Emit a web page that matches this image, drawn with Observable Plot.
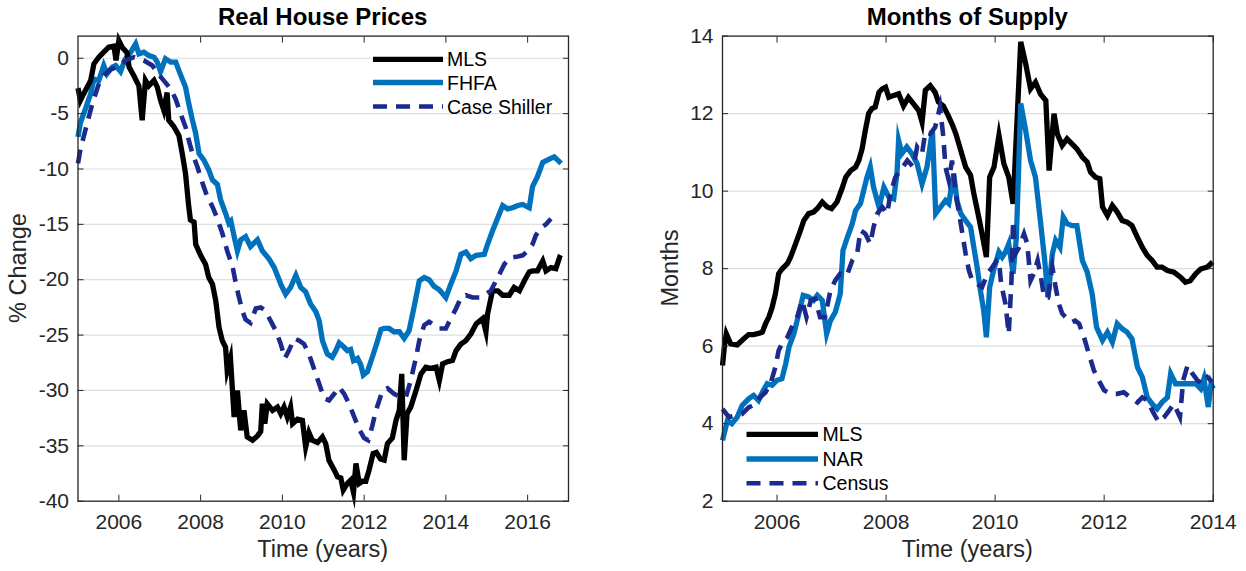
<!DOCTYPE html>
<html>
<head>
<meta charset="utf-8">
<script src="https://cdn.jsdelivr.net/npm/d3@7"></script>
<script src="https://cdn.jsdelivr.net/npm/@observablehq/plot@0.6"></script>
<style>
  html, body { margin: 0; padding: 0; background: #fff; }
  #wrap { position: relative; width: 1246px; height: 571px; overflow: hidden; font-family: "Liberation Sans", Arial, sans-serif; }
  #wrap > svg, #wrap > figure { position: absolute; top: 0; margin: 0; }
  #overlay { position: absolute; left: 0; top: 0; pointer-events: none; }
</style>
</head>
<body>
<div id="wrap"></div>
<script>
// ---------------- Left panel: Real House Prices (% change) ----------------
const priceMlsYear = [2005.00,2005.06,2005.14,2005.31,2005.39,2005.51,2005.63,2005.75,2005.88,2005.93,2006.00,2006.08,2006.20,2006.25,2006.37,2006.49,2006.57,2006.65,2006.73,2006.86,2006.94,2007.02,2007.10,2007.18,2007.22,2007.35,2007.47,2007.55,2007.63,2007.71,2007.75,2007.84,2007.88,2008.00,2008.12,2008.20,2008.29,2008.37,2008.45,2008.53,2008.61,2008.65,2008.73,2008.82,2008.90,2008.98,2009.06,2009.14,2009.27,2009.39,2009.47,2009.51,2009.57,2009.63,2009.76,2009.88,2009.96,2010.04,2010.12,2010.20,2010.25,2010.37,2010.49,2010.57,2010.65,2010.73,2010.86,2010.98,2011.06,2011.14,2011.27,2011.35,2011.43,2011.49,2011.59,2011.67,2011.74,2011.80,2011.88,2011.96,2012.04,2012.12,2012.22,2012.30,2012.40,2012.49,2012.57,2012.69,2012.78,2012.86,2012.92,2012.98,2013.05,2013.14,2013.27,2013.39,2013.51,2013.63,2013.76,2013.84,2013.92,2014.04,2014.16,2014.25,2014.37,2014.49,2014.61,2014.74,2014.90,2014.98,2015.02,2015.14,2015.27,2015.39,2015.55,2015.67,2015.80,2015.92,2016.04,2016.12,2016.24,2016.37,2016.45,2016.57,2016.69,2016.78,2016.83];
const priceMlsValue = [-2.7,-3.8,-3.2,-2.0,-0.5,0.1,0.55,1.0,1.1,-0.2,1.6,1.0,0.5,-0.8,-1.6,-2.5,-5.6,-2.0,-2.5,-2.0,-2.6,-3.8,-4.7,-3.1,-5.6,-6.2,-7.0,-8.6,-10.4,-13.4,-14.6,-14.8,-16.8,-17.8,-18.6,-19.8,-20.4,-21.9,-24.3,-25.5,-26.1,-28.2,-27.1,-32.4,-30.0,-33.6,-31.8,-34.2,-34.5,-34.1,-33.7,-31.2,-33.0,-31.2,-31.8,-31.5,-32.1,-31.5,-32.4,-31.5,-33.0,-32.6,-32.7,-35.1,-33.8,-34.5,-34.7,-34.2,-34.8,-36.3,-37.2,-37.8,-37.9,-39.0,-38.4,-38.1,-39.2,-36.6,-38.4,-38.2,-38.2,-37.2,-35.7,-35.6,-36.2,-36.3,-34.8,-34.3,-32.7,-31.8,-28.5,-36.3,-32.1,-31.5,-30.0,-28.5,-27.9,-28.0,-27.9,-29.1,-27.6,-27.4,-27.3,-26.4,-25.8,-25.5,-24.9,-24.0,-23.5,-24.7,-23.1,-21.0,-21.0,-21.4,-21.4,-20.7,-21.0,-20.1,-19.3,-19.2,-19.2,-18.3,-19.2,-18.9,-19.0,-18.0,-18.1];

const priceFhfaYear = [2005.00,2005.06,2005.18,2005.31,2005.39,2005.51,2005.63,2005.71,2005.84,2005.92,2006.04,2006.16,2006.29,2006.41,2006.49,2006.61,2006.73,2006.86,2006.94,2007.02,2007.14,2007.27,2007.39,2007.51,2007.63,2007.71,2007.80,2007.88,2007.96,2008.08,2008.20,2008.29,2008.41,2008.49,2008.61,2008.69,2008.74,2008.82,2008.90,2008.98,2009.10,2009.22,2009.39,2009.51,2009.67,2009.80,2009.92,2009.96,2010.08,2010.20,2010.33,2010.45,2010.57,2010.69,2010.82,2010.90,2010.98,2011.10,2011.22,2011.31,2011.39,2011.51,2011.59,2011.67,2011.74,2011.84,2011.92,2011.98,2012.08,2012.20,2012.33,2012.41,2012.49,2012.61,2012.73,2012.86,2012.98,2013.10,2013.22,2013.35,2013.47,2013.59,2013.71,2013.84,2014.00,2014.12,2014.25,2014.37,2014.49,2014.61,2014.74,2014.94,2015.02,2015.14,2015.27,2015.39,2015.51,2015.63,2015.76,2015.88,2016.04,2016.12,2016.24,2016.37,2016.53,2016.65,2016.82];
const priceFhfaValue = [-7.1,-5.8,-4.6,-3.2,-1.9,-2.0,-0.66,-1.4,-0.8,-0.66,-1.2,-0.05,0.55,1.3,0.4,0.55,0.25,0.1,-0.35,-1.2,-0.05,-0.35,-0.35,-1.5,-2.6,-4.1,-5.6,-6.8,-8.6,-9.2,-10.1,-11.0,-11.4,-12.8,-14.0,-14.9,-14.7,-16.1,-17.4,-16.4,-16.1,-17.0,-16.4,-17.4,-18.1,-18.9,-20.0,-20.4,-21.3,-20.7,-19.6,-20.7,-21.1,-22.2,-22.9,-23.7,-25.5,-26.7,-27.0,-26.4,-25.7,-26.1,-26.4,-26.3,-27.3,-27.1,-27.7,-28.6,-28.3,-27.0,-25.5,-24.5,-24.4,-24.4,-24.7,-24.7,-25.3,-24.6,-22.5,-20.1,-19.8,-20.0,-20.6,-20.9,-21.6,-20.4,-19.2,-17.7,-17.5,-18.1,-17.8,-17.7,-16.8,-15.6,-14.4,-13.3,-13.6,-13.5,-13.3,-13.2,-13.5,-11.6,-10.7,-9.4,-9.1,-8.9,-9.5];

const priceCsYear = [2005.00,2005.06,2005.18,2005.35,2005.51,2005.67,2005.80,2005.96,2006.16,2006.37,2006.61,2006.82,2006.98,2007.14,2007.27,2007.39,2007.51,2007.63,2007.71,2007.80,2007.92,2008.04,2008.16,2008.29,2008.41,2008.53,2008.65,2008.78,2008.86,2008.92,2009.02,2009.10,2009.22,2009.35,2009.47,2009.59,2009.71,2009.84,2009.96,2010.06,2010.16,2010.29,2010.41,2010.53,2010.65,2010.78,2010.90,2011.02,2011.14,2011.27,2011.39,2011.51,2011.63,2011.76,2011.88,2012.00,2012.10,2012.20,2012.29,2012.37,2012.45,2012.57,2012.73,2012.90,2013.02,2013.14,2013.27,2013.35,2013.47,2013.59,2013.71,2013.84,2014.00,2014.12,2014.25,2014.37,2014.49,2014.65,2014.82,2014.98,2015.10,2015.31,2015.43,2015.59,2015.76,2015.88,2016.00,2016.12,2016.20,2016.33,2016.45,2016.57];
const priceCsValue = [-9.5,-8.2,-6.5,-4.1,-2.3,-1.4,-1.0,-0.8,-0.2,0.1,-0.2,-0.66,-1.5,-2.2,-2.8,-3.7,-5.0,-6.2,-7.4,-8.6,-9.8,-11.2,-12.5,-13.4,-14.5,-15.8,-17.4,-18.8,-20.3,-21.3,-22.8,-23.6,-23.9,-22.6,-22.5,-22.8,-23.7,-24.6,-25.8,-27.1,-26.4,-25.3,-25.5,-25.8,-26.7,-28.1,-29.4,-30.7,-30.9,-30.3,-29.7,-30.3,-31.2,-32.4,-33.5,-34.3,-34.5,-33.2,-31.8,-30.9,-30.0,-29.8,-30.3,-30.6,-30.6,-29.1,-27.0,-25.5,-24.1,-23.8,-24.1,-24.4,-24.4,-23.5,-22.6,-21.6,-21.4,-21.6,-21.6,-21.3,-21.0,-19.5,-18.6,-18.0,-17.9,-17.8,-17.4,-16.8,-16.0,-15.3,-15.0,-14.5];

const priceXTicks = [2006, 2008, 2010, 2012, 2014, 2016];
const priceYTicks = [-40, -35, -30, -25, -20, -15, -10, -5, 0];
const priceSeriesNames = ["MLS", "FHFA", "Case Shiller"];

// ---------------- Right panel: Months of Supply ----------------
const supplyMlsYear = [2005.00,2005.04,2005.07,2005.15,2005.27,2005.39,2005.48,2005.57,2005.66,2005.73,2005.79,2005.85,2005.91,2005.97,2006.03,2006.09,2006.19,2006.25,2006.34,2006.43,2006.49,2006.58,2006.67,2006.74,2006.83,2006.92,2007.00,2007.10,2007.20,2007.26,2007.35,2007.44,2007.50,2007.56,2007.62,2007.68,2007.74,2007.80,2007.87,2007.93,2007.99,2008.05,2008.14,2008.23,2008.32,2008.41,2008.50,2008.60,2008.66,2008.72,2008.81,2008.90,2008.96,2009.05,2009.14,2009.22,2009.28,2009.37,2009.46,2009.55,2009.61,2009.70,2009.76,2009.84,2009.90,2009.98,2010.07,2010.16,2010.25,2010.33,2010.47,2010.56,2010.65,2010.74,2010.83,2010.93,2010.99,2011.08,2011.14,2011.23,2011.32,2011.41,2011.50,2011.60,2011.69,2011.75,2011.84,2011.92,2011.97,2012.06,2012.15,2012.24,2012.33,2012.42,2012.51,2012.61,2012.70,2012.79,2012.88,2012.97,2013.06,2013.16,2013.28,2013.40,2013.49,2013.58,2013.68,2013.77,2013.89,2013.99];
const supplyMlsValue = [5.5,6.06,6.32,6.06,6.03,6.19,6.3,6.3,6.33,6.36,6.58,6.75,7.0,7.35,7.87,7.99,8.13,8.3,8.64,8.99,9.24,9.42,9.46,9.55,9.72,9.59,9.55,9.72,10.1,10.36,10.53,10.62,10.79,11.09,11.57,12.0,12.13,12.17,12.55,12.64,12.68,12.42,12.47,12.51,12.2,12.42,12.26,12.08,11.78,12.6,12.72,12.55,12.3,12.2,11.95,11.7,11.48,11.05,10.62,10.41,9.93,9.33,8.9,8.3,10.36,10.62,11.44,10.71,10.36,9.67,13.85,13.29,12.64,12.81,12.51,12.34,10.53,12.0,11.48,11.18,11.35,11.22,11.09,10.88,10.75,10.49,10.36,10.32,9.59,9.37,9.63,9.46,9.24,9.2,9.11,8.81,8.55,8.34,8.21,8.04,8.04,7.95,7.91,7.78,7.65,7.69,7.87,7.99,8.04,8.17];

const supplyNarYear = [2005.00,2005.09,2005.17,2005.27,2005.36,2005.48,2005.57,2005.66,2005.75,2005.82,2005.91,2006.00,2006.09,2006.16,2006.22,2006.31,2006.40,2006.48,2006.58,2006.67,2006.74,2006.83,2006.91,2006.98,2007.07,2007.16,2007.21,2007.29,2007.38,2007.44,2007.53,2007.59,2007.65,2007.71,2007.77,2007.87,2007.96,2008.05,2008.14,2008.20,2008.23,2008.29,2008.38,2008.47,2008.57,2008.66,2008.75,2008.85,2008.91,2009.00,2009.09,2009.15,2009.24,2009.30,2009.37,2009.46,2009.55,2009.61,2009.67,2009.73,2009.79,2009.84,2009.90,2009.98,2010.07,2010.13,2010.19,2010.25,2010.33,2010.39,2010.47,2010.56,2010.65,2010.74,2010.83,2010.91,2010.97,2011.05,2011.11,2011.19,2011.25,2011.32,2011.41,2011.50,2011.60,2011.69,2011.78,2011.86,2011.97,2012.06,2012.15,2012.24,2012.33,2012.42,2012.51,2012.61,2012.70,2012.79,2012.88,2012.97,2013.06,2013.16,2013.22,2013.31,2013.43,2013.55,2013.68,2013.77,2013.83,2013.91,2013.96,2014.00];
const supplyNarValue = [3.57,4.08,4.0,4.17,4.47,4.64,4.73,4.6,4.86,5.03,4.99,5.12,5.16,5.55,5.98,6.32,6.84,7.31,7.27,7.18,7.31,7.18,6.32,6.66,6.88,7.35,8.47,8.81,9.16,9.5,9.68,10.02,10.36,10.62,10.1,9.59,10.1,9.85,9.8,10.45,11.31,10.97,11.14,10.97,10.71,10.19,10.62,11.57,9.42,9.59,9.76,9.68,10.45,9.76,9.42,9.24,9.07,8.55,8.04,7.44,6.93,6.23,7.52,8.0,8.43,8.3,8.43,8.64,7.87,8.81,12.26,11.57,10.79,10.36,9.24,8.21,7.26,8.38,8.73,8.55,9.33,9.16,9.11,9.11,8.21,7.91,7.35,6.49,6.15,6.36,6.1,6.58,6.45,6.36,6.19,5.46,5.2,4.68,4.51,4.38,4.55,4.68,5.29,5.03,5.03,5.03,5.03,4.9,5.16,4.43,5.03,4.9];

const supplyCensusYear = [2005.00,2005.12,2005.24,2005.36,2005.48,2005.61,2005.69,2005.79,2005.88,2005.97,2006.03,2006.09,2006.19,2006.27,2006.37,2006.46,2006.54,2006.62,2006.70,2006.79,2006.88,2006.98,2007.07,2007.16,2007.28,2007.38,2007.47,2007.53,2007.62,2007.71,2007.77,2007.84,2007.93,2008.02,2008.08,2008.17,2008.26,2008.39,2008.50,2008.57,2008.66,2008.72,2008.81,2008.90,2008.99,2009.05,2009.09,2009.15,2009.21,2009.28,2009.34,2009.40,2009.46,2009.52,2009.58,2009.67,2009.76,2009.86,2009.95,2010.03,2010.07,2010.11,2010.19,2010.25,2010.30,2010.33,2010.37,2010.44,2010.53,2010.59,2010.65,2010.71,2010.78,2010.84,2010.90,2010.97,2011.05,2011.11,2011.17,2011.23,2011.32,2011.41,2011.47,2011.54,2011.63,2011.72,2011.81,2011.90,2012.00,2012.12,2012.24,2012.36,2012.48,2012.61,2012.70,2012.79,2012.88,2013.00,2013.10,2013.19,2013.28,2013.39,2013.45,2013.53,2013.62,2013.71,2013.80,2013.89,2013.98];
const supplyCensusValue = [4.38,4.17,4.21,4.25,4.42,4.51,4.68,4.81,5.03,5.46,5.89,6.06,6.23,6.49,6.75,7.18,6.75,7.18,7.22,6.75,6.75,7.44,7.7,7.87,7.82,8.21,8.38,8.99,8.9,8.64,9.07,9.42,9.59,9.42,9.93,10.36,10.53,10.79,10.62,11.14,10.97,11.52,11.48,11.65,12.17,11.4,10.62,10.28,10.79,9.93,9.42,8.9,8.38,7.95,7.7,7.61,7.52,7.87,8.04,8.21,8.21,7.61,7.09,6.32,7.69,9.24,8.38,8.55,8.9,8.64,7.69,7.87,8.21,7.78,7.26,7.26,8.04,7.52,7.09,6.84,6.71,6.62,6.66,6.58,6.23,5.8,5.38,5.12,4.86,4.77,4.77,4.81,4.68,4.55,4.68,4.6,4.34,4.04,4.17,4.34,4.51,4.17,5.12,5.5,5.29,5.12,5.03,5.2,5.08];

const supplyXTicks = [2006, 2008, 2010, 2012, 2014];
const supplyYTicks = [2, 4, 6, 8, 10, 12, 14];
const supplySeriesNames = ["MLS", "NAR", "Census"];

// ---------------- Styling ----------------
const FONT = '"Liberation Sans", Arial, Helvetica, sans-serif';
const INK = "#262626";
const colBlack = "#000000";
const colBlue = "#0072BD";
const colNavy = "#1b2a8c";
const solidW = 5.3;
const dashW = 4.6;
const dashPattern = "14,9";

const zip = (xs, ys) => xs.map((x, i) => ({x, y: ys[i]}));

function panel({width, marginLeft, marginRight, xDomain, yDomain, xTicks, yTicks, series}) {
  const lines = series.map(s => Plot.line(s.data, {
    x: "x", y: "y", stroke: s.color, strokeWidth: s.dashed ? dashW : solidW,
    strokeDasharray: s.dashed ? dashPattern : null,
    strokeLinejoin: "miter", strokeMiterlimit: 7, strokeLinecap: "butt"
  }));
  return Plot.plot({
    width, height: 571,
    marginLeft, marginRight, marginTop: 35.6, marginBottom: 70.3,
    x: {domain: xDomain},
    y: {domain: yDomain},
    style: {fontFamily: FONT, fontSize: "21px", color: INK, background: "transparent", overflow: "visible"},
    marks: [
      Plot.gridY(yTicks.filter(v => v > yDomain[0] && v < yDomain[1]), {stroke: "#dedede", strokeOpacity: 1, strokeWidth: 1.2}),
      ...lines,
      Plot.frame({stroke: INK, strokeWidth: 1.3}),
      Plot.axisX(xTicks, {anchor: "bottom", tickSize: 0, tickPadding: 13, tickFormat: d => String(d), label: null, fill: INK}),
      Plot.axisX(xTicks, {anchor: "bottom", tickSize: -6, tickFormat: () => "", label: null, stroke: INK}),
      Plot.axisX(xTicks, {anchor: "top", tickSize: -6, tickFormat: () => "", label: null, stroke: INK}),
      Plot.axisY(yTicks, {anchor: "left", tickSize: 0, tickPadding: 9, tickFormat: d => String(d), label: null, fill: INK}),
      Plot.axisY(yTicks, {anchor: "left", tickSize: -6, tickFormat: () => "", label: null, stroke: INK}),
      Plot.axisY(yTicks, {anchor: "right", tickSize: -6, tickFormat: () => "", label: null, stroke: INK})
    ]
  });
}

const left = panel({
  width: 600, marginLeft: 77.5, marginRight: 32,
  xDomain: [2005, 2017], yDomain: [-40, 2],
  xTicks: priceXTicks, yTicks: priceYTicks,
  series: [
    {data: zip(priceFhfaYear, priceFhfaValue), color: colBlue},
    {data: zip(priceMlsYear, priceMlsValue), color: colBlack},
    {data: zip(priceCsYear, priceCsValue), color: colNavy, dashed: true}
  ]
});
const right = panel({
  width: 646, marginLeft: 122, marginRight: 33.3,
  xDomain: [2005, 2014], yDomain: [2, 14],
  xTicks: supplyXTicks, yTicks: supplyYTicks,
  series: [
    {data: zip(supplyMlsYear, supplyMlsValue), color: colBlack},
    {data: zip(supplyNarYear, supplyNarValue), color: colBlue},
    {data: zip(supplyCensusYear, supplyCensusValue), color: colNavy, dashed: true}
  ]
});

const wrap = document.getElementById("wrap");
left.style.left = "0px";
right.style.left = "600px";
wrap.appendChild(left);
wrap.appendChild(right);

// ---------------- Titles, axis labels and legends (overlay) ----------------
const ov = d3.select(wrap).append("svg").attr("id", "overlay")
  .attr("width", 1246).attr("height", 571)
  .style("font-family", FONT);

const titles = [
  {text: "Real House Prices", x: 322.7},
  {text: "Months of Supply", x: 967.3}
];
ov.selectAll("text.title").data(titles).join("text").attr("class", "title")
  .attr("x", d => d.x).attr("y", 25).attr("text-anchor", "middle")
  .attr("font-size", 24).attr("font-weight", "bold").attr("fill", "#000")
  .text(d => d.text);

const xLabels = [{text: "Time (years)", x: 322.7}, {text: "Time (years)", x: 967.3}];
ov.selectAll("text.xlab").data(xLabels).join("text").attr("class", "xlab")
  .attr("x", d => d.x).attr("y", 556.5).attr("text-anchor", "middle")
  .attr("font-size", 23.5).attr("fill", INK).text(d => d.text);

const yLabels = [{text: "% Change", x: 26, y: 268}, {text: "Months", x: 678, y: 268}];
ov.selectAll("text.ylab").data(yLabels).join("text").attr("class", "ylab")
  .attr("transform", d => `translate(${d.x},${d.y}) rotate(-90)`)
  .attr("text-anchor", "middle").attr("font-size", 23.5).attr("fill", INK)
  .text(d => d.text);

function legend(names, colors, dashed, x0, x1, tx, ys) {
  const g = ov.append("g");
  names.forEach((name, i) => {
    g.append("line").attr("x1", x0).attr("x2", x1).attr("y1", ys[i]).attr("y2", ys[i])
      .attr("stroke", colors[i]).attr("stroke-width", dashed[i] ? dashW : solidW)
      .attr("stroke-dasharray", dashed[i] ? dashPattern : null);
    g.append("text").attr("x", tx).attr("y", ys[i]).attr("dy", "0.36em")
      .attr("font-size", 19.5).attr("fill", "#000").text(name);
  });
}
legend(priceSeriesNames, [colBlack, colBlue, colNavy], [false, false, true], 373, 443, 447, [59.3, 82.5, 106.5]);
legend(supplySeriesNames, [colBlack, colBlue, colNavy], [false, false, true], 746.5, 818, 822.5, [434.3, 459.0, 483.3]);
</script>
</body>
</html>
